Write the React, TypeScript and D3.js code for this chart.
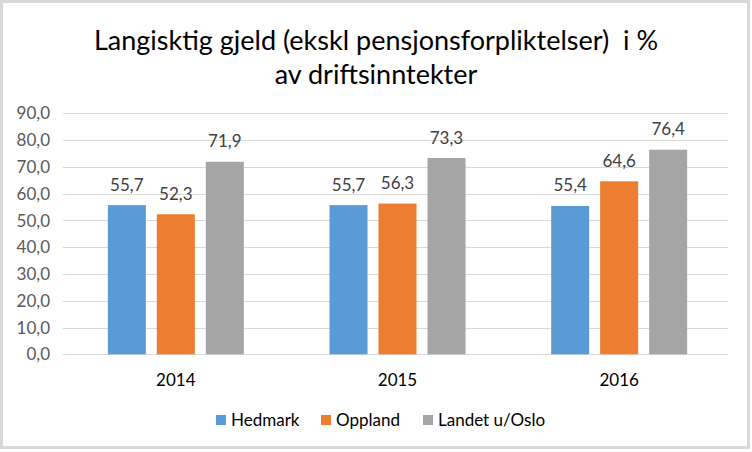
import React from "react";
import * as d3 from "d3";

const years = ["2014", "2015", "2016"];
const seriesNames = ["Hedmark", "Oppland", "Landet u/Oslo"];
const hedmark = [55.7, 55.7, 55.4];
const oppland = [52.3, 56.3, 64.6];
const landet = [71.9, 73.3, 76.4];
const yTicks = [0, 10, 20, 30, 40, 50, 60, 70, 80, 90];
const colors = ["#5B9BD5", "#ED7D31", "#A5A5A5"];
const titleLines = ["Langisktig gjeld (ekskl pensjonsforpliktelser)\u00a0\u00a0i %", "av driftsinntekter"];

const W = 752, H = 452;
const plot = { left: 63, right: 728, top: 113.3, bottom: 354.3 };
const FONT = "Lato, 'Open Sans', sans-serif";

export default function App() {
  const series = [hedmark, oppland, landet];
  const x0 = d3.scaleBand().domain(years).range([plot.left, plot.right]).paddingInner(0).paddingOuter(0);
  const groupW = 136;
  const x1 = d3.scaleBand().domain(seriesNames).range([0, groupW]).paddingInner(0.224).paddingOuter(0);
  const y = d3.scaleLinear().domain([0, 90]).range([plot.bottom, plot.top]);
  const fmt = (v: number) => d3.format(".1f")(v).replace(".", ",");

  const legendItems = [
    { name: seriesNames[0], x: 216 },
    { name: seriesNames[1], x: 321 },
    { name: seriesNames[2], x: 423 },
  ];

  return (
    <svg width={W} height={H} style={{ position: "absolute", left: 0, top: 0, fontFamily: FONT }}>
      <rect x={0} y={0} width={W} height={H} fill="#fff" />
      <rect x={1.5} y={1.5} width={747} height={446} fill="none" stroke="#D9D9D9" strokeWidth={3} />
      {titleLines.map((t, i) => (
        <text key={i} x={376} y={50 + i * 34} textAnchor="middle" fontSize={27} fill="#000">
          {t}
        </text>
      ))}
      {yTicks.map((t) => (
        <g key={t}>
          <line x1={plot.left} x2={plot.right} y1={Math.round(y(t)) + 0.5} y2={Math.round(y(t)) + 0.5} stroke="#D9D9D9" strokeWidth={1} />
          <text x={50} y={y(t)} dy="0.36em" textAnchor="end" fontSize={17} fill="#595959">
            {fmt(t)}
          </text>
        </g>
      ))}
      {years.map((yr, i) => {
        const gx = (x0(yr) as number) + (x0.bandwidth() - groupW) / 2 + 2;
        return (
          <g key={yr}>
            {series.map((s, j) => {
              const bx = gx + (x1(seriesNames[j]) as number);
              const bw = x1.bandwidth();
              return (
                <g key={j}>
                  <rect x={bx} y={y(s[i])} width={bw} height={y(0) - y(s[i])} fill={colors[j]} />
                  <text x={bx + bw / 2} y={y(s[i]) - 14.5} textAnchor="middle" fontSize={17} fill="#404040">
                    {fmt(s[i])}
                  </text>
                </g>
              );
            })}
            <text x={(x0(yr) as number) + x0.bandwidth() / 2 + 2} y={386} textAnchor="middle" fontSize={17} fill="#000">
              {yr}
            </text>
          </g>
        );
      })}
      {legendItems.map((l, j) => (
        <g key={l.name}>
          <rect x={l.x} y={415} width={10} height={10} fill={colors[j]} />
          <text x={l.x + 15} y={426} fontSize={17} fill="#000">
            {l.name}
          </text>
        </g>
      ))}
    </svg>
  );
}
